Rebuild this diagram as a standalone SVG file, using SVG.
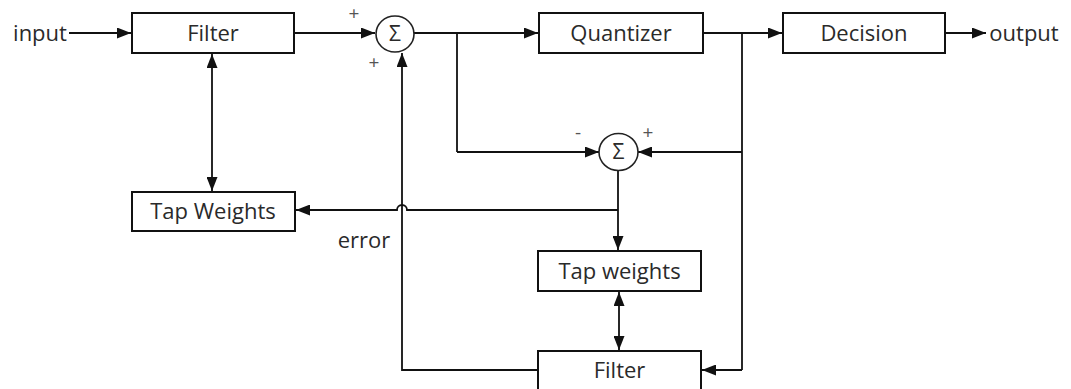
<svg xmlns="http://www.w3.org/2000/svg" width="1071" height="389" viewBox="0 0 1071 389">
<defs>
<marker id="ah" viewBox="0 0 14 11" refX="14" refY="5.5" markerWidth="14" markerHeight="11" markerUnits="userSpaceOnUse" orient="auto-start-reverse">
<path d="M0,0 L14,5.5 L0,11 z" fill="#111"/>
</marker>
<style>
.box{fill:#fff;stroke:#111;stroke-width:2}
.sum{fill:#fff;stroke:#222;stroke-width:1.6}
.lbl{font-family:"Open Sans","Noto Sans",sans-serif;font-size:22px;fill:#2a2a2a;text-anchor:middle}
.sig{font-family:"Open Sans","Noto Sans",sans-serif;font-size:21px;fill:#2a2a2a;text-anchor:middle}
.sgn{font-family:"Open Sans","Noto Sans",sans-serif;font-size:19px;fill:#555;text-anchor:middle}
.c{fill:none;stroke:#111;stroke-width:1.8}
.a{marker-end:url(#ah)}
.d{marker-start:url(#ah);marker-end:url(#ah)}
</style>
</defs>
<rect width="1071" height="389" fill="#fff"/>
<g id="connectors">
<path class="c a" d="M69,33 L131,33"/>
<path class="c a" d="M294,33 L375,33"/>
<path class="c a" d="M414,33 L538,33"/>
<path class="c a" d="M703,33 L782,33"/>
<path class="c a" d="M945,33 L986,33"/>
<path class="c d" d="M212,54 L212,191"/>
<path class="c" d="M457,33 L457,152"/>
<path class="c a" d="M457,152 L599,152"/>
<path class="c" d="M742,33 L742,370"/>
<path class="c a" d="M742,152 L638,152"/>
<path class="c a" d="M742,370 L702,370"/>
<path class="c a" d="M618,170 L618,250"/>
<path class="c a" d="M618,210 L407,210 A5,5 0 0 0 397,210 L296,210"/>
<path class="c a" d="M538,370 L402,370 L402,53"/>
<path class="c d" d="M619,292 L619,350"/>
</g>
<g id="input"><text class="lbl" x="40" y="41">input</text></g>
<g id="output"><text class="lbl" x="1024" y="41">output</text></g>
<g id="filter1"><rect class="box" x="132" y="13" width="162" height="40"/><text class="lbl" x="213" y="41">Filter</text></g>
<g id="sum1"><ellipse class="sum" cx="395" cy="34" rx="19" ry="18"/><text class="sig" x="395" y="41">Σ</text>
<text class="sgn" x="354" y="20">+</text><text class="sgn" x="374" y="69">+</text></g>
<g id="quantizer"><rect class="box" x="539" y="13" width="164" height="40"/><text class="lbl" x="621" y="41">Quantizer</text></g>
<g id="decision"><rect class="box" x="783" y="13" width="162" height="40"/><text class="lbl" x="864" y="41">Decision</text></g>
<g id="sum2"><ellipse class="sum" cx="618.5" cy="152" rx="19.5" ry="18.5"/><text class="sig" x="618.5" y="159">Σ</text>
<text class="sgn" x="578" y="139">-</text><text class="sgn" x="648" y="139">+</text></g>
<g id="tapweights1"><rect class="box" x="132" y="192" width="163" height="39"/><text class="lbl" x="213" y="219">Tap Weights</text></g>
<g id="error"><text class="lbl" x="364" y="248">error</text></g>
<g id="tapweights2"><rect class="box" x="538" y="251" width="163" height="40"/><text class="lbl" x="619.5" y="279">Tap weights</text></g>
<g id="filter2"><rect class="box" x="538" y="351" width="163" height="40"/><text class="lbl" x="619.5" y="378">Filter</text></g>
</svg>
